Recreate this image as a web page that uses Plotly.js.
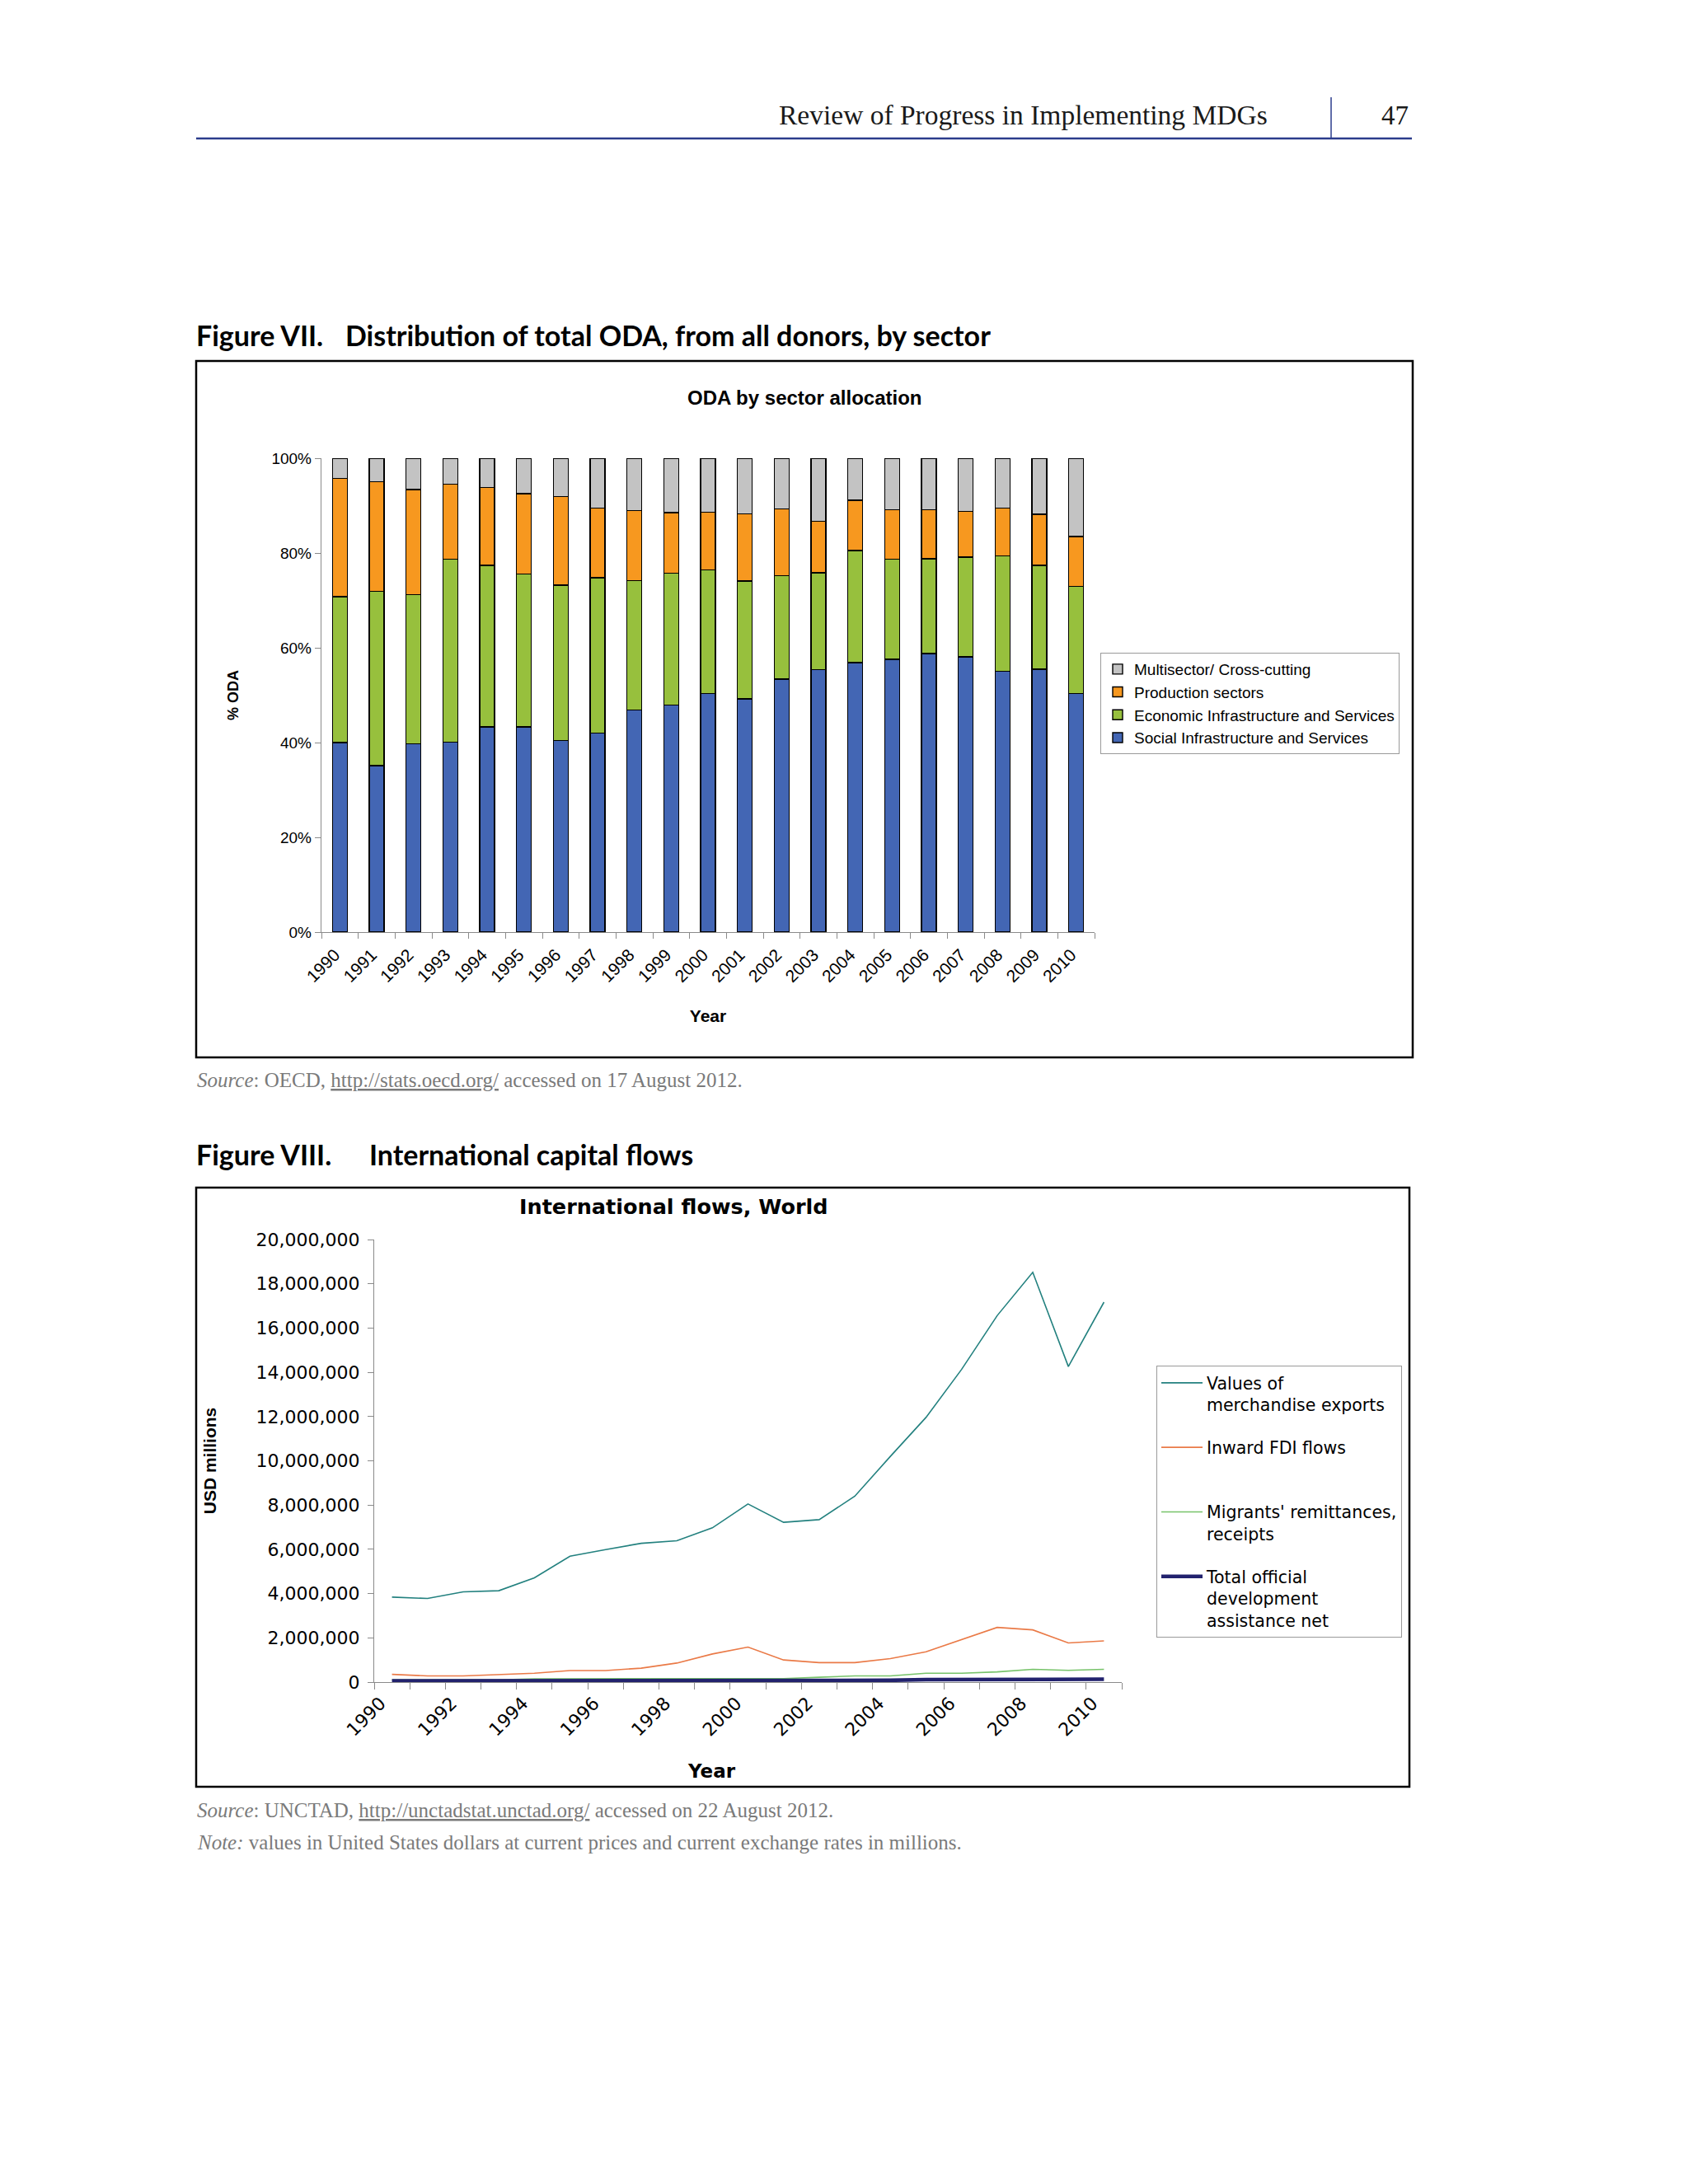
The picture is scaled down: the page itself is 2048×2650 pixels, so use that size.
<!DOCTYPE html>
<html>
<head>
<meta charset="utf-8">
<script src="https://cdn.plot.ly/plotly-3.0.1.min.js"></script>
<style>
html,body{margin:0;padding:0;background:#ffffff;}
#page{width:2048px;height:2650px;}
</style>
</head>
<body>
<div id="page"></div>
<script>
// ---------- Figure VII data: ODA by sector allocation (% of total) ----------
const odaYears = ['1990','1991','1992','1993','1994','1995','1996','1997','1998','1999','2000',
                  '2001','2002','2003','2004','2005','2006','2007','2008','2009','2010'];
const socialShare     = [40.0,35.1,39.7,40.1,43.3,43.3,40.4,42.0,46.9,47.9,50.4,49.2,53.4,55.4,56.9,57.6,58.8,58.1,55.0,55.5,50.3];
const economicShare   = [30.8,36.8,31.5,38.6,34.1,32.3,32.8,32.8,27.3,27.8,26.0,24.9,21.8,20.4,23.6,21.1,20.0,21.0,24.4,21.9,22.7];
const productionShare = [24.9,23.1,22.2,15.8,16.4,16.9,18.7,14.7,14.8,12.8,12.2,14.2,14.1,10.9,10.6,10.4,10.3, 9.7,10.1,10.8,10.5];
const multiShare      = [ 4.3, 5.0, 6.6, 5.5, 6.2, 7.5, 8.1,10.5,11.0,11.5,11.4,11.7,10.7,13.3, 8.9,10.9,10.9,11.2,10.5,11.8,16.5];
const sectorNames = ['Social Infrastructure and Services','Economic Infrastructure and Services',
                     'Production sectors','Multisector/ Cross-cutting'];

// ---------- Figure VIII data: International flows, World (USD millions) ----------
const flowYears = [1990,1991,1992,1993,1994,1995,1996,1997,1998,1999,2000,
                   2001,2002,2003,2004,2005,2006,2007,2008,2009,2010];
const merchandiseExports = [3840000,3780000,4080000,4130000,4710000,5690000,5990000,6270000,6390000,6970000,8050000,
                            7220000,7340000,8400000,10200000,11960000,14130000,16560000,18520000,14260000,17170000];
const inwardFDI = [350000,280000,280000,330000,400000,520000,520000,630000,860000,1270000,1580000,
                   1000000,880000,880000,1060000,1370000,1910000,2470000,2360000,1770000,1860000];
const remittances = [100000,100000,100000,100000,150000,160000,160000,160000,160000,160000,160000,
                     160000,220000,280000,280000,400000,400000,460000,580000,530000,580000];
const officialODA = [55000,57000,60000,56000,59000,59000,56000,49000,52000,54000,54000,
                     52000,61000,70000,80000,108000,105000,105000,122000,120000,129000];
const flowNames = ['Values of<br>merchandise exports','Inward FDI flows<br>&nbsp;',
                   "Migrants' remittances,<br>receipts",'Total official<br>development<br>assistance net'];
const flowTickYears = flowYears.filter(y => y % 2 === 0);

// ---------- helpers ----------
const W = 2048, H = 2650;
const X = p => p / W;
const Y = p => 1 - p / H;
const arial = 'Liberation Sans, Arial, sans-serif';
const dejavu = 'DejaVu Sans, Verdana, sans-serif';
const serif = 'Liberation Serif, Times New Roman, serif';
const calibri = 'Lato, Calibri, sans-serif';

const barColors = ['#4366B4','#97C03D','#F7981F','#C3C3C3'];
const shares = [socialShare, economicShare, productionShare, multiShare];

const traces = [];
shares.forEach((vals, i) => {
  traces.push({
    type: 'bar', x: odaYears, y: vals, name: sectorNames[i],
    marker: {color: barColors[i], line: {color: '#000000', width: 1.4}},
    xaxis: 'x', yaxis: 'y', legend: 'legend', hoverinfo: 'skip'
  });
});

const flowSeries = [merchandiseExports, inwardFDI, remittances, officialODA];
const flowColors = ['#23817F','#EA7A47','#77C36A','#22226E'];
const flowWidths = [1.6, 1.6, 1.6, 4.5];
flowSeries.forEach((vals, i) => {
  traces.push({
    type: 'scatter', mode: 'lines', x: flowYears, y: vals, name: flowNames[i],
    line: {color: flowColors[i], width: flowWidths[i]},
    xaxis: 'x2', yaxis: 'y2', legend: 'legend2', legendgroup: 'g' + i, hoverinfo: 'skip'
  });
});

const annotations = [
  {text: 'Review of Progress in Implementing MDGs', x: X(1540), y: Y(140), xanchor: 'right', yanchor: 'middle',
   font: {family: serif, size: 33.5, color: '#1a1a1a'}},
  {text: '47', x: X(1674), y: Y(140), xanchor: 'left', yanchor: 'middle',
   font: {family: serif, size: 33, color: '#1a1a1a'}},
  {text: '<b>Figure VII.</b>', x: X(236), y: Y(406), xanchor: 'left', yanchor: 'middle',
   font: {family: calibri, size: 34, color: '#000'}},
  {text: '<b>Distribution of total ODA, from all donors, by sector</b>', x: X(417), y: Y(406), xanchor: 'left', yanchor: 'middle',
   font: {family: calibri, size: 34, color: '#000'}},
  {text: '<b>ODA by sector allocation</b>', x: X(976), y: Y(483), xanchor: 'center', yanchor: 'middle',
   font: {family: arial, size: 24, color: '#000'}},
  {text: '<i>Source</i>: OECD, <span style="text-decoration:underline">http://stats.oecd.org/</span> accessed on 17 August 2012.',
   x: X(237), y: Y(1310), xanchor: 'left', yanchor: 'middle',
   font: {family: serif, size: 25, color: '#7a7a7a'}},
  {text: '<b>Figure VIII.</b>', x: X(236), y: Y(1400), xanchor: 'left', yanchor: 'middle',
   font: {family: calibri, size: 34, color: '#000'}},
  {text: '<b>International capital flows</b>', x: X(446), y: Y(1400), xanchor: 'left', yanchor: 'middle',
   font: {family: calibri, size: 34, color: '#000'}},
  {text: '<b>International flows, World</b>', x: X(817), y: Y(1464), xanchor: 'center', yanchor: 'middle',
   font: {family: dejavu, size: 25.5, color: '#000'}},
  {text: '<b>Year</b>', x: X(863), y: Y(2149), xanchor: 'center', yanchor: 'middle',
   font: {family: dejavu, size: 23, color: '#000'}},
  {text: '<i>Source</i>: UNCTAD, <span style="text-decoration:underline">http://unctadstat.unctad.org/</span> accessed on 22 August 2012.',
   x: X(237), y: Y(2196), xanchor: 'left', yanchor: 'middle',
   font: {family: serif, size: 25, color: '#7a7a7a'}},
  {text: '<i>Note:</i> values in United States dollars at current prices and current exchange rates in millions.',
   x: X(237), y: Y(2235), xanchor: 'left', yanchor: 'middle',
   font: {family: serif, size: 25, color: '#7a7a7a'}}
].map(a => Object.assign({xref: 'paper', yref: 'paper', showarrow: false}, a));

const shapes = [
  {type: 'line', x0: X(238), x1: X(1713), y0: Y(168), y1: Y(168), line: {color: '#2B3C8C', width: 2.5}},
  {type: 'line', x0: X(1615), x1: X(1615), y0: Y(118), y1: Y(168), line: {color: '#2B3C8C', width: 1.5}},
  {type: 'rect', x0: X(238), x1: X(1714), y0: Y(438), y1: Y(1283), line: {color: '#000', width: 2.5}},
  {type: 'rect', x0: X(238), x1: X(1710), y0: Y(1441), y1: Y(2168), line: {color: '#000', width: 2.5}}
].map(s => Object.assign({xref: 'paper', yref: 'paper', layer: 'above'}, s));

const layout = {
  width: W, height: H,
  margin: {l: 0, r: 0, t: 0, b: 0, pad: 0},
  paper_bgcolor: '#ffffff', plot_bgcolor: '#ffffff',
  barmode: 'stack', bargap: 0.6,
  showlegend: true,
  xaxis: {
    domain: [X(390), X(1328)], anchor: 'y', type: 'category',
    showline: true, linecolor: '#8a8a8a', linewidth: 1.2,
    ticks: 'outside', tickson: 'boundaries', ticklen: 7, tickcolor: '#8a8a8a',
    tickangle: -45, tickfont: {family: arial, size: 21, color: '#000'},
    ticklabelshift: -6, ticklabelstandoff: 6,
    showgrid: false, zeroline: false, automargin: false,
    title: {text: '<b>Year</b>', font: {family: arial, size: 21, color: '#000'}, standoff: 30}
  },
  yaxis: {
    domain: [Y(1131), Y(556)], anchor: 'x', range: [0, 100], dtick: 20, ticksuffix: '%',
    showline: true, linecolor: '#8a8a8a', linewidth: 1.2,
    ticks: 'outside', ticklen: 7, tickcolor: '#8a8a8a',
    tickfont: {family: arial, size: 19, color: '#000'},
    showgrid: false, zeroline: false, automargin: false,
    title: {text: '<b>% ODA</b>', font: {family: arial, size: 18, color: '#000'}, standoff: 35}
  },
  xaxis2: {
    domain: [X(454), X(1361)], anchor: 'y2', type: 'linear', range: [1989.5, 2010.5],
    tickmode: 'array', tickvals: flowTickYears, ticktext: flowTickYears.map(String),
    ticks: '', showline: true, linecolor: '#8a8a8a', linewidth: 1.2,
    minor: {tickmode: 'linear', tick0: 1989.5, dtick: 1, ticks: 'outside', ticklen: 8, tickcolor: '#8a8a8a', showgrid: false},
    tickangle: -45, tickfont: {family: dejavu, size: 22, color: '#000'},
    ticklabelshift: -14, ticklabelstandoff: 3,
    showgrid: false, zeroline: false, automargin: false
  },
  yaxis2: {
    domain: [Y(2041), Y(1504)], anchor: 'x2', range: [0, 20000000], dtick: 2000000, tickformat: ',.0f',
    showline: true, linecolor: '#8a8a8a', linewidth: 1.2,
    ticks: 'outside', ticklen: 7, tickcolor: '#8a8a8a',
    tickfont: {family: dejavu, size: 22, color: '#000'}, ticklabelstandoff: 5,
    showgrid: false, zeroline: false, automargin: false,
    title: {text: '<b>USD millions</b>', font: {family: arial, size: 21, color: '#000'}, standoff: 42}
  },
  legend: {
    x: X(1335), xanchor: 'left', y: Y(792), yanchor: 'top',
    bordercolor: '#9a9a9a', borderwidth: 1, bgcolor: '#ffffff',
    font: {family: arial, size: 19, color: '#000'},
    traceorder: 'reversed', itemwidth: 30, itemclick: false, itemdoubleclick: false
  },
  legend2: {
    x: X(1403), xanchor: 'left', y: Y(1657), yanchor: 'top',
    bordercolor: '#9a9a9a', borderwidth: 1, bgcolor: '#ffffff',
    font: {family: dejavu, size: 20.5, color: '#000'},
    traceorder: 'grouped', tracegroupgap: 22, valign: 'top', itemwidth: 50,
    itemclick: false, itemdoubleclick: false
  },
  annotations: annotations,
  shapes: shapes
};

Plotly.newPlot('page', traces, layout, {staticPlot: true, displayModeBar: false});
</script>
</body>
</html>
